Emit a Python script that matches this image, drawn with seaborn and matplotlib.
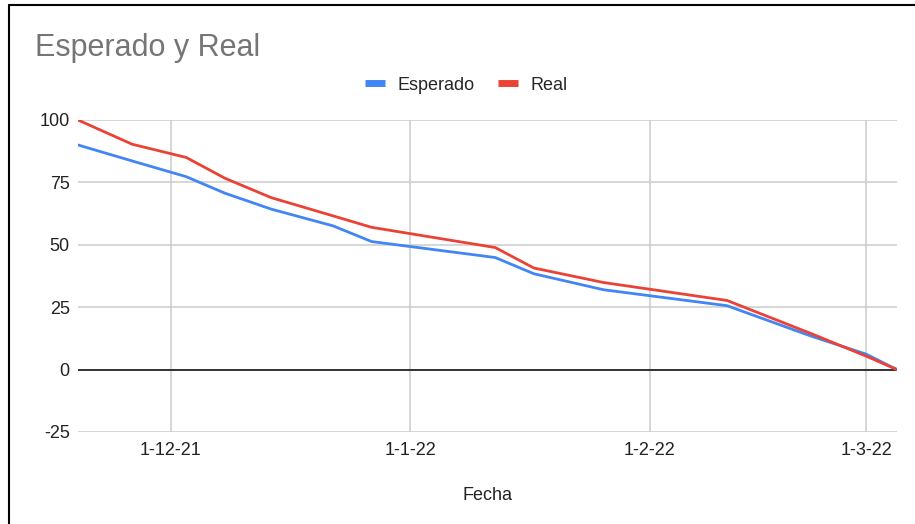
import pandas as pd
import matplotlib.pyplot as plt
from matplotlib.lines import Line2D
import seaborn as sns

# Esperado y Real
fechas = ['2021-11-19', '2021-11-26', '2021-12-03', '2021-12-08', '2021-12-14',
          '2021-12-22', '2021-12-27', '2022-01-12', '2022-01-17', '2022-01-26',
          '2022-02-11', '2022-02-22', '2022-03-01', '2022-03-05']
esperado = [90, 83.6, 77.3, 70.7, 64.3, 57.6, 51.3, 44.9, 38.4, 32, 25.6, 13.3, 6.2, 0]
real = [100, 90.3, 85, 76.7, 68.9, 61.6, 57, 48.9, 40.7, 34.9, 27.7, 14.3, 5.4, 0]

tick_fechas = ['2021-12-01', '2022-01-01', '2022-02-01', '2022-03-01']
tick_labels = ['1-12-21', '1-1-22', '1-2-22', '1-3-22']
y_ticks = [-25, 0, 25, 50, 75, 100]

data = pd.DataFrame({
    'Fecha': pd.to_datetime(fechas * 2),
    'Valor': esperado + real,
    'Serie': ['Esperado'] * len(fechas) + ['Real'] * len(fechas),
})

sns.set_style('white')
plt.rcParams['font.family'] = ['Liberation Sans', 'DejaVu Sans']

fig = plt.figure(figsize=(9.15, 5.24), dpi=100)
ax = fig.add_axes([78 / 915, 1 - 432 / 524, (897 - 78) / 915, (432 - 120) / 524])

colores = {'Esperado': '#4285F4', 'Real': '#EA4335'}
sns.lineplot(data=data, x='Fecha', y='Valor', hue='Serie', palette=colores,
             linewidth=2.0, ax=ax, legend=False, zorder=3)

ax.set_xlim(pd.Timestamp('2021-11-19'), pd.Timestamp('2022-03-05'))
ax.set_ylim(-25, 100)
ax.set_yticks(y_ticks)
ax.set_yticklabels([str(v) for v in y_ticks])
ax.set_xticks(pd.to_datetime(tick_fechas))
ax.set_xticklabels(tick_labels)

ax.grid(True, color='#cccccc', linewidth=1.1)
ax.axhline(0, color='#333333', linewidth=1.4, zorder=2)
for s in ax.spines.values():
    s.set_visible(False)
ax.tick_params(axis='both', length=0, labelsize=13, colors='#222222')
ax.tick_params(axis='x', pad=7)
ax.tick_params(axis='y', pad=6)

ax.set_ylabel('')
ax.set_xlabel('Fecha', fontsize=13, color='#222222', labelpad=20)

fig.text(35 / 915, 1 - 56 / 524, 'Esperado y Real', fontsize=22, color='#757575',
         ha='left', va='baseline')

handles = [Line2D([], [], color=colores['Esperado'], linewidth=5, solid_capstyle='butt'),
           Line2D([], [], color=colores['Real'], linewidth=5, solid_capstyle='butt')]
fig.legend(handles, ['Esperado', 'Real'], loc='center', bbox_to_anchor=(466 / 915, 1 - 85 / 524),
           ncol=2, frameon=False, fontsize=13, handlelength=1.1, handletextpad=0.7,
           columnspacing=1.3)

# borde negro de la captura
fig.add_artist(Line2D([9 / 915, 9 / 915], [0, 1 - 5 / 524], color='black', linewidth=1.5))
fig.add_artist(Line2D([9 / 915, 1], [1 - 5 / 524, 1 - 5 / 524], color='black', linewidth=1.5))

fig.savefig('out.png', dpi=100)
